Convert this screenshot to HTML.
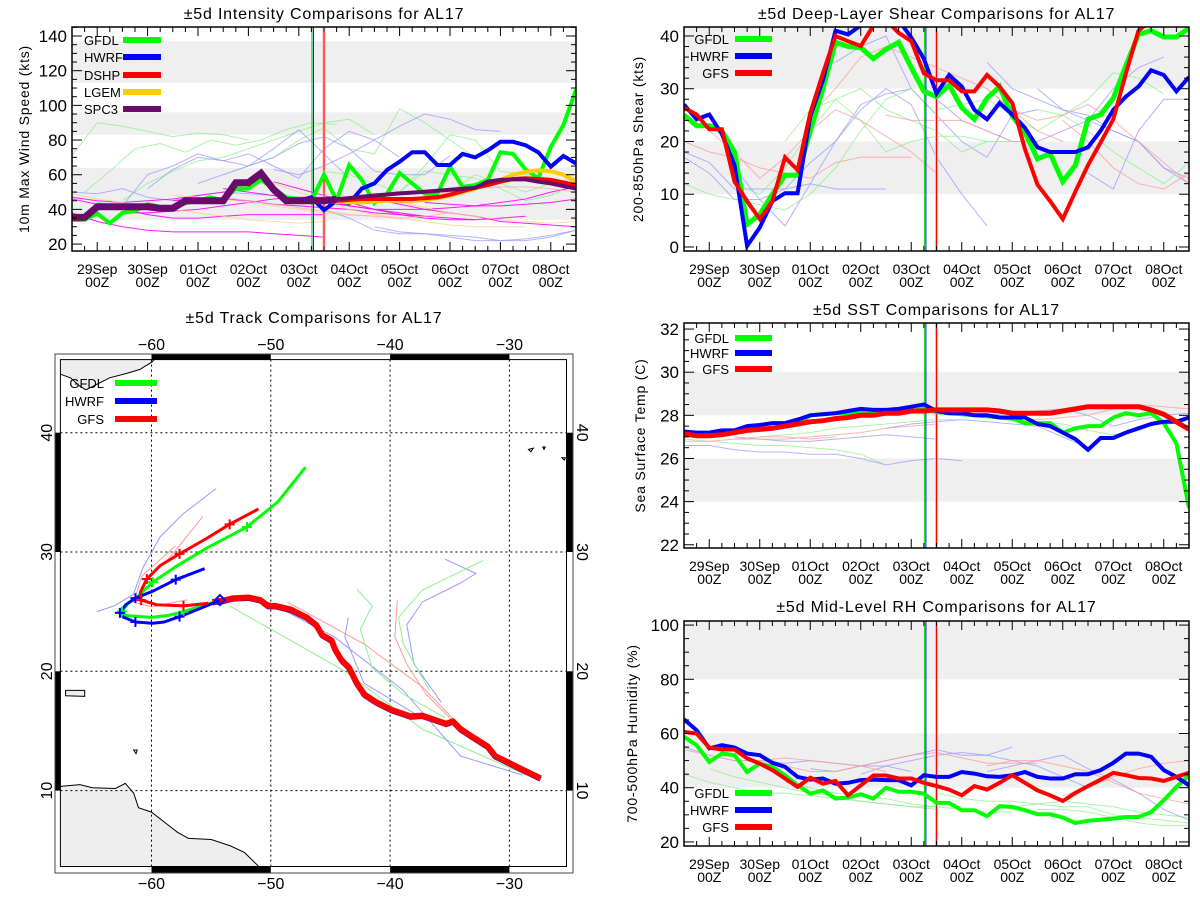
<!DOCTYPE html>
<html><head><meta charset="utf-8">
<style>
html,body{margin:0;padding:0;background:#fff;}
svg{display:block;font-family:"Liberation Sans",sans-serif;}
</style></head>
<body>
<svg id="root" width="1200" height="900" viewBox="0 0 1200 900" xmlns="http://www.w3.org/2000/svg"></svg>
<script>
// ---------- DATA (6-hourly, index i -> t = -0.5 + 0.25*i days from 29Sep 00Z) ----------
const dateLabels = ["29Sep","30Sep","01Oct","02Oct","03Oct","04Oct","05Oct","06Oct","07Oct","08Oct"];
const hourLabel = "00Z";
const vlineDays = [4.26, 4.29, 4.5];

// Intensity
const intGfdl = [33.8,34,37.7,32,38,39,43,41.5,40.6,43.5,45,47,45,52,52,57,52,47,46,45,60,45,65.6,57,43.5,49,61,55,49,49,64.6,53,54,57,73,72,63,58,76,88.7,109];
const intHwrf = [35.5,35.5,41.5,41.5,41.5,41.5,41.5,41,41,45,45,45,45,55,55,60,51.5,45,45,47,39.6,45,43.5,52,55,62.7,67.5,73,73,65.6,65.6,72,70,74,79,79,77,73,64.6,70.8,66.5];
const intSpc3 = [35.4,35.4,41.5,41.5,41.5,41.5,41.5,40.6,40.6,45,45,45,45,55.4,55.4,60.8,51.5,45,45,45,45,45.8,46.5,47.3,48,48.6,49.2,49.7,50.2,50.8,51.3,51.9,52.4,56,57,57.3,57.3,56,55,53.5,52];
const intDshp = [null,null,null,null,null,null,null,null,null,null,null,null,null,null,null,null,null,null,null,null,45,45,45.5,46,46,46,46,46,46.5,47,48.5,50.5,52.5,54,56,57.5,58,57.5,57,55.5,54];
const intLgem = [null,null,null,null,null,null,null,null,null,null,null,null,null,null,null,null,null,null,null,null,45,44.5,44,44,44.5,45,45,45,45.5,46.5,48,50,52,54.5,57,60,61.5,62.5,62,60,56];
const intThinStart = [0,1,4,12,20,26,28, 0,2,6,10,16,20,24, 0,0,0,4,8,12,16,20,24,28, 0,8,16,24, 12,28];
const intThinColor = ["g","g","g","g","g","g","g","b","b","b","b","b","b","b","m","m","m","m","m","m","m","m","m","m","o","o","o","o","p","p"];
const intThinVals = [
 [71,90,88,85,82,84,83,80],
 [50,62,75,78,73,80,77,80,86,90,89],
 [45,55,62,68,70,75,80,85,90,92,83],
 [60,65,70,80,87,75,72,98,90,80,70],
 [62,60,55,50,65,83,80,62,60,55,52],
 [50,62,60,58,52,45,48,55,62,75,82],
 [45,50,60,55,50,55,58,62,66,70,75],
 [50,49,52,47,45,48,50,49,48,45,44],
 [44,42,60,65,72,68,65,75,86,72,58],
 [52,63,70,68,72,65,58,75,85,80,70],
 [55,60,65,70,78,82,75,62,60,60,71],
 [63,60,65,72,80,88,95,92,86,85],
 [40,35,28,26,26,24,22,22,23,25,28],
 [30,27,26,25,24,22,22,24,28,32,34],
 [47,45,44,45,46,48,50,52],
 [46,43,40,37,35,35,36,37,37,37,37],
 [38,33,30,28,27,27,27,27,26,25,24],
 [38,38,39,40,42,44,46,47,47],
 [45,46,46,45,43,42,41,40,38,37,36],
 [52,50,48,46,44,42,40,38,36,35,34],
 [56,52,48,44,40,37,35,34,34,35,36],
 [45,42,40,40,40,41,42,44,46,50,53],
 [46,43,40,38,36,33,32,31,30,30,31],
 [44,43,42,42,43,44,46,48,52,55,56],
 [49,46,44,42,40,38,36,34,33,32,33],
 [48,47,46,44,42,40,38,37,36,35],
 [55,50,45,40,37,35,33,31,30,30,30],
 [47,44,41,38,36,34,33,32,33,34,35],
 [47,45,43,41,39,37,36,35,36,38],
 [48,50,52,53,53,52,50,49]
];

// Shear
const shGfdl = [25,23,23,22,18,4.3,6.2,10,13.6,13.6,22,30,38.8,38,37.8,35.7,37.5,38.8,34,29.5,28.5,30.7,26.4,24.2,28.2,30.4,24.8,21.7,16.7,17.7,12.4,15.5,24.2,25.1,28.2,34.4,40.3,41,39.8,39.8,41.5];
const shHwrf = [27,24.2,25.1,21.4,15.5,0.2,3.7,8.7,10.2,10.2,24.8,31.6,41,40.3,42,43,43,43,39.7,35.7,29.1,32.6,30.4,26,24.2,27.3,25.1,22.6,18.9,18,18,18,18.9,22,26,28.5,30.4,33.5,32.6,29.5,32.2];
const shGfs = [26.4,25.1,22.3,22.3,12.4,8.7,5.3,8.7,17,14.6,25.4,32.9,40,39,38.1,42,43,40.6,39,32.9,31.6,31.6,29.5,29.5,32.6,30.4,27.3,18.6,11.8,8.7,5.3,10.5,15.5,19.8,24.2,32.9,41,43,null,null,null];
const shThinStart = [0,0,4,12,18,24,28,32, 0,4,8,20,28, 0,2,10,16,24,30];
const shThinColor = ["b","b","b","b","b","b","b","b","g","g","g","g","g","r","r","r","r","r","r"];
const shThinVals = [
 [18,16,11,11,11,12,11,11,11],
 [17,14,9,9,11,16,20,27,29,30,25],
 [15,9,4,12,20,26,30,27,17,10,4],
 [35,38,40,30,25,20,17,25,26],
 [33,28,24,22,20,20,22,24,30,34,36],
 [35,30,28,26,24,22,20,15,12,28,36],
 [30,26,25,22,20,15,13,12,11,20,30],
 [14,11,22,28,28,30,33,36],
 [12,10,9,8,7,10,15,22,28,30,25],
 [12,10,15,22,28,30,26,24,22,18,20],
 [20,26,28,24,18,20,21,21,20,20],
 [26,27,28,25,22,25,28,33,32,29],
 [26,25,22,18,15,12,16,24,28,34,40],
 [20,18,17,15,14,13,16,17,17,17],
 [22,18,13,17,22,26,24,21,18,14],
 [25,30,36,38,36,34,32,30,26,22,20],
 [25,24,24,24,22,20,20],
 [30,26,24,25,27,24,20,16,12,10,15],
 [24,20,15,12,11,14,22,30,40,42]
];

// SST
const sstGfdl = [27.1,27.05,27.05,27.1,27.2,27.3,27.35,27.4,27.5,27.6,28.0,28.05,28.1,28.1,28.15,28.15,28.15,28.2,28.2,28.3,28.15,28.1,28.05,28.0,27.95,27.9,27.85,27.64,27.64,27.64,27.2,27.4,27.5,27.5,27.9,28.1,28.0,28.1,27.64,26.7,23.7];
const sstHwrf = [27.25,27.2,27.2,27.3,27.3,27.5,27.55,27.64,27.64,27.8,28.0,28.05,28.1,28.2,28.3,28.25,28.25,28.3,28.4,28.5,28.2,28.1,28.1,28.0,28.0,27.9,27.9,27.9,27.6,27.5,27.2,26.9,26.4,26.95,26.95,27.2,27.4,27.6,27.7,27.7,27.9];
const sstGfs = [27.15,27.05,27.05,27.1,27.2,27.3,27.35,27.4,27.5,27.6,27.7,27.75,27.85,27.9,28.0,28.0,28.1,28.1,28.2,28.2,28.25,28.25,28.25,28.25,28.25,28.2,28.1,28.1,28.1,28.1,28.2,28.3,28.4,28.4,28.4,28.4,28.4,28.25,28.05,27.7,27.35];
const sstThinStart = [0,4,16,24, 0,6,26, 0,4,24];
const sstThinColor = ["b","b","b","b","g","g","g","r","r","r"];
const sstThinVals = [
 [26.6,26.6,26.4,26.3,26.3,26.2,26.2,26.0,25.7,25.9,26.0,25.9],
 [27,26.9,26.8,26.8,26.9,27.0,27.1,27.0,26.9],
 [27.4,27.6,27.7,27.8,27.7,27.6,27.5,27.0,26.5],
 [28,28.1,28.2,28.3,28.0,27.5,27.8,28.0,28.1,28.2,28.1],
 [26.9,26.8,26.7,26.6,26.6,26.5,26.4,26.2,25.7],
 [27,27.1,27.2,27.4,27.5,27.6,27.7,27.8,27.8],
 [27.8,27.7,27.6,27.3,27.1,27.3,27.7,27.9,28.0,28.1],
 [26.8,26.8,26.9,27,27,26.9,27],
 [26.9,26.9,26.9,27.0,27.1,27.2,27.4,27.5,27.6],
 [28.0,27.9,27.8,27.9,28.0,28.3,28.5,28.4,28.3,28.4,28.6]
];

// RH
const rhGfdl = [58.8,55.7,49.5,52.6,52,45.8,48.9,47.7,44.6,40.9,37.8,39,36,36.4,37.6,36,40,38.5,38.5,37.8,34.4,34.4,31.7,31.7,29.5,33.2,32.9,31.7,30.2,30.2,29,27,27.8,28.2,28.6,29.2,29.2,31,35.4,40.3,44.6];
const rhHwrf = [65.2,61.2,54.5,55.7,54.8,52.6,52,49.2,47.7,44,43,43.4,41.5,41.8,42.8,43,42.8,42.8,40.9,44.6,44,44,45.8,45.2,44.2,44,44.6,45.8,44,43.4,43.4,45,45,46.5,49.2,52.6,52.6,51.4,46.5,44,40.9];
const rhGfs = [60.6,60,54.8,54.1,54.1,50.8,48.9,46.5,43.4,40.3,43.7,41.5,42.5,37.2,40.9,44.5,44.5,43.4,43.4,41.8,40.6,39.3,37.2,40.6,39.3,41.8,44.6,41.8,39,37.2,35.1,38.1,40.6,43,45.5,44.6,43.6,43.4,42.5,44,45.5];
const rhThinStart = [0,2,8,20,26,28, 0,10,24,14, 0,8,24,30];
const rhThinColor = ["g","g","g","g","g","g","b","b","b","b","r","r","r","r"];
const rhThinVals = [
 [45,42,40,38,38,37,36,35,34,33,32],
 [47,44,42,40,38,37,35,34,33,33],
 [42,40,38,37,36,34,33,32,31,31],
 [38,36,35,35,34,33,33,30,29,28,27],
 [33,34,35,34,33,31,30,29,29,30,33],
 [32,32,31,29,27,26,26,28,31,35],
 [55,52,50,50,49,50,49,48,48,46],
 [47,46,48,50,52,54,52,52,55],
 [46,48,50,52,47,43,38,32,28],
 [45,48,50,52,53,52,50,48,44,40],
 [54,52,50,50,51,50,49,48,46],
 [48,46,46,48,50,52,53,51,49,49,49],
 [48,50,50,48,46,42,38,36,34],
 [37,40,44,47,49,50,51]
];

// Track (lon, lat)
const trkObsLon = [-27.39,-29.26,-31.19,-31.84,-33.13,-34.1,-34.74,-35.3,-36.35,-37.32,-38.29,-39.9,-41.19,-42.16,-42.81,-43.45,-44.1,-44.58,-44.9,-45.71,-46.19,-47.0,-48.29,-49.58,-50.23,-50.87,-51.84,-53.13,-54.1,-54.9];
const trkObsLat = [11.03,11.94,12.9,13.71,14.52,15.16,15.81,15.6,15.97,16.29,16.23,16.77,17.42,18.06,19.03,20.32,20.97,21.77,22.58,23.06,23.87,24.52,25.16,25.48,25.48,25.97,26.19,26.13,25.9,25.81];
const trkGfdlLon = [-54.5,-55.23,-57.32,-58.61,-60.06,-62.16,-62.48,-62.0,-61.03,-59.9,-57.97,-55.39,-52.0,-49.42,-47.1];
const trkGfdlLat = [25.9,25.65,25.0,24.68,24.52,24.68,25.0,25.65,26.39,27.48,28.77,30.32,32.1,34.19,37.1];
const trkHwrfLon = [-54.26,-55.39,-57.65,-58.94,-59.9,-61.35,-62.32,-62.65,-62.16,-61.35,-59.9,-57.97,-55.55];
const trkHwrfLat = [25.97,25.48,24.58,24.13,24.03,24.13,24.52,24.9,25.58,26.13,26.71,27.68,28.61];
const trkGfsLon = [-55.23,-57.32,-59.58,-60.87,-60.94,-60.39,-59.26,-57.65,-55.39,-53.45,-51.03];
const trkGfsLat = [25.71,25.48,25.58,25.97,26.61,27.74,28.87,29.84,31.13,32.32,33.61];
const trkGfdlMarks = [2,6,9,12];
const trkHwrfMarks = [2,5,7,9,11];
const trkGfsMarks = [1,3,5,7,9];
const trkThinColor = ["b","r","g","b","r","g","b","g","r","b","r"];
const trkThinLon = [
 [-64.58,-63.13,-61.52,-60.71,-59.26,-57.32,-54.58],
 [-61.03,-60.5,-58.5,-55.7],
 [-53.45,-43.77,-37.32,-28.61],
 [-50.2,-44.7,-38.9,-34.1,-28.9],
 [-48.6,-42.2,-37.3,-34.7],
 [-42.8,-41.5,-42.5,-41.5,-38.9,-35.4],
 [-35.4,-32.8,-34.1,-37.3,-38.6,-38.0,-35.7],
 [-32.2,-37.3,-39.3,-38.9,-36.7],
 [-39.4,-39.6,-38.6,-37.0,-34.7],
 [-43.5,-43.8,-42.2,-38.0],
 [-57,-60,-61.5,-60.8,-58]
];
const trkThinLat = [
 [25.0,25.48,26.45,28.71,31.29,33.23,35.32],
 [25.81,27.5,29.5,32.97],
 [25.48,20.0,15.16,11.3],
 [25.8,22.9,18.4,12.9,11.3],
 [25.8,22.3,18.7,16.0],
 [26.9,25.5,23.5,20.3,18.1,16.1],
 [29.4,28.2,27.4,25.8,23.9,20.6,17.4],
 [29.3,26.8,24.5,22.3,18.4],
 [26.0,22.9,20.6,18.1,15.8],
 [24.5,22.9,19.0,16.5],
 [26,25.4,25.8,28,30.5]
];

// ---------- DRAWING ----------
const NS = "http://www.w3.org/2000/svg";
const root = document.getElementById('root');
function mk(tag, attrs, parent) {
  const e = document.createElementNS(NS, tag);
  for (const k in attrs) e.setAttribute(k, attrs[k]);
  (parent || root).appendChild(e);
  return e;
}
const COL = {g:"#00ff00", b:"#0000ff", r:"#ff0000", o:"#ffcc00", p:"#6a0a6a"};
const THIN = {g:"#8cf08c", b:"#9a9aff", r:"#ff9a9a", m:"#ff00ff", o:"#ffd080", p:"#ffaaaa"};
let clipId = 0;

function makePanel(cfg) {
  const g = mk('g', {});
  
  
  const X = t => cfg.x0 + (t + 0.5) / 10 * (cfg.x1 - cfg.x0);
  const Y = v => cfg.y1 - (v - cfg.vmin) / (cfg.vmax - cfg.vmin) * (cfg.y1 - cfg.y0);
  const Xi = i => X(-0.5 + 0.25 * i);
  cfg.bands.forEach(b => {
    const top = Y(Math.min(b[1], cfg.vmax)), bot = Y(Math.max(b[0], cfg.vmin));
    const r = mk('rect', {x: cfg.x0, y: top, width: cfg.x1 - cfg.x0, height: bot - top, fill: '#efefef'}, g);
    
    
  });
  const tt = mk('text', {x: (cfg.x0 + cfg.x1) / 2, y: cfg.titleY, 'text-anchor': 'middle', 'font-size': 16, 'letter-spacing': '0.8', fill: '#000'}, g);
  tt.textContent = cfg.title;
  
  
  const yc = (cfg.y0 + cfg.y1) / 2;
  const yl = mk('text', {x: cfg.ylabX, y: yc, 'text-anchor': 'middle', 'font-size': 14, 'letter-spacing': '0.8', transform: `rotate(-90 ${cfg.ylabX} ${yc})`}, g);
  yl.textContent = cfg.ylabel;
  
  
  const id = 'pclip' + (clipId++);
  const cp = mk('clipPath', {id}, g);
  mk('rect', {x: cfg.x0, y: cfg.y0, width: cfg.x1 - cfg.x0, height: cfg.y1 - cfg.y0}, cp);
  const dg = mk('g', {'clip-path': `url(#${id})`}, g);
  
  
  return {g, dg, X, Y, Xi};
}
function finishAxes(cfg, P) {
  const g = P.g;
  const ax = mk('g', {stroke: '#000', 'stroke-width': 1}, g);
  
  
  for (let v = Math.ceil(cfg.vmin / cfg.minor) * cfg.minor; v <= cfg.vmax + 1e-6; v += cfg.minor) {
    const isMaj = Math.abs(v / cfg.major - Math.round(v / cfg.major)) < 1e-6;
    const L = isMaj ? 10 : 5, y = P.Y(v);
    mk('line', {x1: cfg.x0, x2: cfg.x0 + L, y1: y, y2: y}, ax);
    mk('line', {x1: cfg.x1, x2: cfg.x1 - L, y1: y, y2: y}, ax);
    if (isMaj) {
      const t = mk('text', {x: cfg.x0 - 5, y: y + 6, 'text-anchor': 'end', 'font-size': 17, stroke: 'none', fill: '#000'}, g);
      t.textContent = String(Math.round(v));
      
      
    }
  }
  for (let k = -2; k <= 38; k++) {
    const t = k * 0.25, x = P.X(t);
    const isMaj = k % 4 === 0;
    const L = isMaj ? 9 : 5;
    mk('line', {x1: x, x2: x, y1: cfg.y1, y2: cfg.y1 - L}, ax);
    mk('line', {x1: x, x2: x, y1: cfg.y0, y2: cfg.y0 + L}, ax);
    if (isMaj && k / 4 < dateLabels.length) {
      const a = mk('text', {x: x, y: cfg.y1 + 23, 'text-anchor': 'middle', 'font-size': 14, fill: '#000', stroke: 'none'}, g);
      a.textContent = dateLabels[k / 4];
      
      
      const b = mk('text', {x: x, y: cfg.y1 + 36, 'text-anchor': 'middle', 'font-size': 14, fill: '#000', stroke: 'none'}, g);
      b.textContent = hourLabel;
      
      
    }
  }
  const fr = mk('rect', {x: cfg.x0, y: cfg.y0, width: cfg.x1 - cfg.x0, height: cfg.y1 - cfg.y0, fill: 'none', stroke: '#000', 'stroke-width': 1.5}, g);
  
  
}
function series(P, start, vals, step, color, width, op, name) {
  let d = '', pen = false;
  vals.forEach((v, j) => {
    if (v === null || v === undefined) { pen = false; return; }
    const x = P.Xi(start + j * step), y = P.Y(v);
    d += (pen ? 'L' : 'M') + x.toFixed(1) + ' ' + y.toFixed(1);
    pen = true;
  });
  const p = mk('path', {d, fill: 'none', stroke: color, 'stroke-width': width, 'stroke-linejoin': 'miter', opacity: op}, P.dg);
  
  
}
function vlines(cfg, P) {
  const cols = ['#00dd00', '#0000ff', '#ff0000'];
  vlineDays.forEach((t, k) => {
    const x = P.X(t);
    if (k === 2) {
      const w = mk('line', {x1: x, x2: x, y1: cfg.y0, y2: cfg.y1, stroke: '#ffb0b0', 'stroke-width': 3}, P.dg);
      
      
    }
    const l = mk('line', {x1: x, x2: x, y1: cfg.y0, y2: cfg.y1, stroke: cols[k], 'stroke-width': 1}, P.dg);
    
    
  });
}
function legend(g, names, colors, xText, anchor, x1, x2, ys) {
  names.forEach((n, k) => {
    const t = mk('text', {x: xText, y: ys[k] + 5, 'text-anchor': anchor, 'font-size': 13, fill: '#000'}, g);
    t.textContent = n;
    
    
    const l = mk('line', {x1: x1, x2: x2, y1: ys[k], y2: ys[k], stroke: colors[k], 'stroke-width': 6}, g);
    
    
  });
}
function thinSet(P, starts, cols, vals) {
  vals.forEach((v, k) => series(P, starts[k], v, 2, THIN[cols[k]], 1, cols[k] === 'm' ? 0.9 : 0.75, 'past-forecast-line'));
}

// Intensity panel
const cI = {name: 'intensity-panel', x0: 72, x1: 576, y0: 27, y1: 251, vmin: 16, vmax: 145.2, major: 20, minor: 5,
  bands: [[34, 64], [83, 96], [113, 137]], title: '\u00b15d Intensity Comparisons for AL17', titleY: 19, ylabel: '10m Max Wind Speed (kts)', ylabX: 29};
const PI = makePanel(cI);
thinSet(PI, intThinStart, intThinColor, intThinVals);
vlines(cI, PI);
series(PI, 0, intGfdl, 1, COL.g, 4, 1, 'gfdl-intensity');
series(PI, 0, intHwrf, 1, COL.b, 4, 1, 'hwrf-intensity');
series(PI, 0, intLgem, 1, COL.o, 4, 1, 'lgem-intensity');
series(PI, 0, intDshp, 1, COL.r, 4, 1, 'dshp-intensity');
series(PI, 0, intSpc3.slice(0, 22), 1, COL.p, 7, 1, 'spc3-observed');
series(PI, 21, intSpc3.slice(21), 1, COL.p, 4, 1, 'spc3-intensity');
finishAxes(cI, PI);
legend(PI.g, ['GFDL', 'HWRF', 'DSHP', 'LGEM', 'SPC3'], [COL.g, COL.b, COL.r, COL.o, COL.p], 84, 'start', 123, 161, [40, 57, 75, 92, 109]);

// Shear panel
const cS = {name: 'shear-panel', x0: 684, x1: 1189, y0: 27, y1: 251, vmin: -0.76, vmax: 41.7, major: 10, minor: 2,
  bands: [[10, 20], [30, 50]], title: '\u00b15d Deep-Layer Shear Comparisons for AL17', titleY: 19, ylabel: '200-850hPa Shear (kts)', ylabX: 643};
const PS = makePanel(cS);
thinSet(PS, shThinStart, shThinColor, shThinVals);
vlines(cS, PS);
series(PS, 0, shGfdl, 1, COL.g, 5, 1, 'gfdl-shear');
series(PS, 0, shHwrf, 1, COL.b, 4, 1, 'hwrf-shear');
series(PS, 0, shGfs, 1, COL.r, 4, 1, 'gfs-shear');
finishAxes(cS, PS);
legend(PS.g, ['GFDL', 'HWRF', 'GFS'], [COL.g, COL.b, COL.r], 729, 'end', 735, 772, [39, 56, 73]);

// SST panel
const cT = {name: 'sst-panel', x0: 684, x1: 1189, y0: 323, y1: 548, vmin: 21.85, vmax: 32.28, major: 2, minor: 0.5,
  bands: [[24, 26], [28, 30]], title: '\u00b15d SST Comparisons for AL17', titleY: 315, ylabel: 'Sea Surface Temp (C)', ylabX: 645};
const PT = makePanel(cT);
thinSet(PT, sstThinStart, sstThinColor, sstThinVals);
vlines(cT, PT);
series(PT, 0, sstGfdl, 1, COL.g, 4, 1, 'gfdl-sst');
series(PT, 0, sstHwrf, 1, COL.b, 4, 1, 'hwrf-sst');
series(PT, 0, sstGfs, 1, COL.r, 5, 1, 'gfs-sst');
finishAxes(cT, PT);
legend(PT.g, ['GFDL', 'HWRF', 'GFS'], [COL.g, COL.b, COL.r], 729, 'end', 735, 772, [338, 353, 369]);

// RH panel
const cR = {name: 'rh-panel', x0: 684, x1: 1189, y0: 621, y1: 846, vmin: 18.5, vmax: 101.5, major: 20, minor: 5,
  bands: [[40, 60], [80, 110]], title: '\u00b15d Mid-Level RH Comparisons for AL17', titleY: 612, ylabel: '700-500hPa Humidity (%)', ylabX: 637};
const PR = makePanel(cR);
thinSet(PR, rhThinStart, rhThinColor, rhThinVals);
vlines(cR, PR);
series(PR, 0, rhGfdl, 1, COL.g, 4, 1, 'gfdl-rh');
series(PR, 0, rhHwrf, 1, COL.b, 4, 1, 'hwrf-rh');
series(PR, 0, rhGfs, 1, COL.r, 4, 1, 'gfs-rh');
finishAxes(cR, PR);
legend(PR.g, ['GFDL', 'HWRF', 'GFS'], [COL.g, COL.b, COL.r], 729, 'end', 735, 772, [793, 810, 827]);

// Track panel
(function () {
  const g = mk('g', {});
  
  
  const ix0 = 60.4, ix1 = 566.5, iy0 = 359.6, iy1 = 866.5;
  const LX = lon => 151.5 + (lon + 60) * 11.93;
  const LY = lat => 432.7 - (lat - 40) * 11.93;
  const t = mk('text', {x: 314, y: 323, 'text-anchor': 'middle', 'font-size': 16, 'letter-spacing': '0.8'}, g);
  t.textContent = '\u00b15d Track Comparisons for AL17';
  
  
  const cp = mk('clipPath', {id: 'mapclip'}, g);
  mk('rect', {x: ix0, y: iy0, width: ix1 - ix0, height: iy1 - iy0}, cp);
  const m = mk('g', {'clip-path': 'url(#mapclip)'}, g);
  const poly = (pts, name) => {
    const p = mk('polygon', {points: pts.map(q => LX(q[0]).toFixed(1) + ',' + LY(q[1]).toFixed(1)).join(' '), fill: '#eeeeee', stroke: '#000', 'stroke-width': 1}, m);
    
    
  };
  poly([[-70, 2], [-70, 10.4], [-67.64, 10.35], [-66, 10.5], [-64.96, 10.24], [-63.03, 10.18], [-62.2, 10.6], [-61.5, 9.8], [-61.09, 8.57], [-60, 8.2], [-58.83, 7.28], [-57.8, 6.5], [-56.9, 5.99], [-55, 5.9], [-53.35, 5.36], [-52.2, 4.8], [-51.1, 3.73], [-50, 2], [-70, 2]], 'south-america-land');
  poly([[-70, 48], [-70, 45], [-67.64, 44.9], [-66.8, 44.6], [-66, 43.9], [-65.5, 43.6], [-64.5, 44.1], [-63.5, 44.6], [-62, 45], [-61, 45.3], [-60, 45.9], [-59.6, 46.3], [-59, 48]], 'nova-scotia-land');
  poly([[-67.2, 18.4], [-65.6, 18.4], [-65.6, 17.9], [-67.2, 17.95]], 'puerto-rico-land');
  poly([[-61.5, 13.4], [-61.2, 13.4], [-61.3, 13.1]], 'island');
  poly([[-28.4, 38.6], [-28.0, 38.7], [-28.2, 38.4]], 'azores-island');
  poly([[-27.2, 38.8], [-27.0, 38.8], [-27.1, 38.6]], 'azores-island');
  poly([[-25.6, 37.9], [-25.3, 37.9], [-25.4, 37.7]], 'azores-island');
  [-60, -50, -40, -30].forEach(lon => {
    const l = mk('line', {x1: LX(lon), x2: LX(lon), y1: iy0, y2: iy1, stroke: '#000', 'stroke-dasharray': '2,3', 'stroke-width': 1}, m);
    
    
  });
  [10, 20, 30, 40].forEach(lat => {
    const l = mk('line', {x1: ix0, x2: ix1, y1: LY(lat), y2: LY(lat), stroke: '#000', 'stroke-dasharray': '2,3', 'stroke-width': 1}, m);
    
    
  });
  const path = (lons, lats, color, w, name) => {
    const d = lons.map((lo, k) => (k ? 'L' : 'M') + LX(lo).toFixed(1) + ' ' + LY(lats[k]).toFixed(1)).join('');
    const p = mk('path', {d, fill: 'none', stroke: color, 'stroke-width': w, 'stroke-linejoin': 'round'}, m);
    
    
  };
  trkThinLon.forEach((lo, k) => path(lo, trkThinLat[k], THIN[trkThinColor[k]], 1, 'past-track-forecast'));
  path(trkObsLon, trkObsLat.map(v => v - 0.08), COL.b, 5, 'hwrf-track-past');
  path(trkObsLon, trkObsLat, COL.r, 6, 'observed-track');
  path(trkGfdlLon, trkGfdlLat, COL.g, 3, 'gfdl-track');
  path(trkHwrfLon, trkHwrfLat, COL.b, 3, 'hwrf-track');
  path(trkGfsLon, trkGfsLat, COL.r, 3, 'gfs-track');
  const marks = (lons, lats, idx, color) => idx.forEach(i => {
    const x = LX(lons[i]), y = LY(lats[i]);
    const p = mk('path', {d: `M${x - 5} ${y}L${x + 5} ${y}M${x} ${y - 5}L${x} ${y + 5}`, stroke: color, 'stroke-width': 2}, m);
    
    
  });
  marks(trkGfdlLon, trkGfdlLat, trkGfdlMarks, COL.g);
  marks(trkHwrfLon, trkHwrfLat, trkHwrfMarks, COL.b);
  marks(trkGfsLon, trkGfsLat, trkGfsMarks, COL.r);
  const dx = LX(trkHwrfLon[0]), dy = LY(trkHwrfLat[0]);
  const dm = mk('path', {d: `M${dx} ${dy - 5}L${dx + 5} ${dy}L${dx} ${dy + 5}L${dx - 5} ${dy}Z`, fill: 'none', stroke: COL.b, 'stroke-width': 2}, m);
  
  
  const ox0 = 55, ox1 = 573, oy0 = 354, oy1 = 873;
  const bar = (x, y, w, h) => {
    const r = mk('rect', {x, y, width: w, height: h, fill: '#000'}, g);
    
    
  };
  [[-60, -50], [-40, -30]].forEach(b => { bar(LX(b[0]), oy0, LX(b[1]) - LX(b[0]), iy0 - oy0); bar(LX(b[0]), iy1, LX(b[1]) - LX(b[0]), oy1 - iy1); });
  [[40, 30], [20, 10]].forEach(b => { bar(ox0, LY(b[0]), ix0 - ox0, LY(b[1]) - LY(b[0])); bar(ix1, LY(b[0]), ox1 - ix1, LY(b[1]) - LY(b[0])); });
  mk('rect', {x: ox0, y: oy0, width: ox1 - ox0, height: oy1 - oy0, fill: 'none', stroke: '#444', 'stroke-width': 1}, g);
  mk('rect', {x: ix0, y: iy0, width: ix1 - ix0, height: iy1 - iy0, fill: 'none', stroke: '#000', 'stroke-width': 1}, g);
  [-60, -50, -40, -30].forEach(lon => {
    ['top', 'bottom'].forEach(s => {
      const tx = mk('text', {x: LX(lon), y: s === 'top' ? 350 : 889, 'text-anchor': 'middle', 'font-size': 16}, g);
      tx.textContent = '\u2212' + (-lon);
      
      
    });
  });
  [10, 20, 30, 40].forEach(lat => {
    const y = LY(lat);
    const a = mk('text', {x: 0, y: 0, 'text-anchor': 'middle', 'font-size': 16, transform: `translate(52 ${y}) rotate(-90)`}, g);
    a.textContent = String(lat);
    
    
    const b = mk('text', {x: 0, y: 0, 'text-anchor': 'middle', 'font-size': 16, transform: `translate(577 ${y}) rotate(90)`}, g);
    b.textContent = String(lat);
    
    
  });
  legend(g, ['GFDL', 'HWRF', 'GFS'], [COL.g, COL.b, COL.r], 104, 'end', 115, 157, [383, 401, 419]);
})();
</script>
</body></html>
